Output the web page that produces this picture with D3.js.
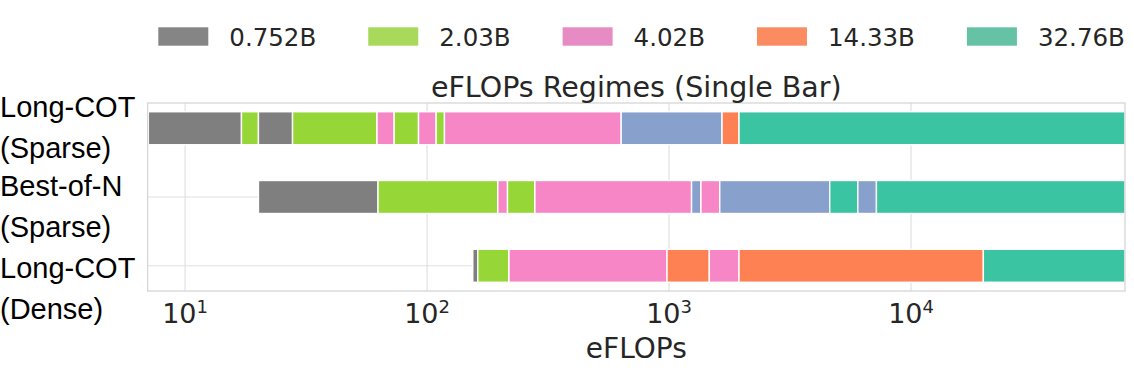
<!DOCTYPE html>
<html>
<head>
<meta charset="utf-8">
<script src="https://cdn.jsdelivr.net/npm/d3@7"></script>
<style>
  body { margin: 0; background: #fff; }
  svg { display: block; }
</style>
</head>
<body>
<svg id="chart" width="1134" height="375"></svg>
<script>
// rows of the chart, top to bottom
var rowLines = [["Long-COT", "(Sparse)"], ["Best-of-N", "(Sparse)"], ["Long-COT", "(Dense)"]];

// model sizes; "other" is drawn in the bars but has no legend entry
var models = ["0.752B", "2.03B", "4.02B", "other", "14.33B", "32.76B"];
var legendModels = ["0.752B", "2.03B", "4.02B", "14.33B", "32.76B"];
var barColors = ["#7f7f7f", "#97d637", "#f786c6", "#88a0cc", "#fe8153", "#3bc4a1"];
var legendColors = ["#858585", "#a8d95a", "#e68bc4", "#88a0cc", "#fb8c61", "#66c2a5"];

// segment edges (eFLOPs) and which model owns each segment
var longCotSparseEdges = [7.05, 17.1, 20.1, 27.8, 62.1, 73.1, 92.2, 109, 118, 634, 1656, 1946, 76600];
var longCotSparseModels = [0, 1, 0, 1, 2, 1, 2, 1, 2, 3, 4, 5];
var bestOfNEdges = [20.1, 62.7, 196, 215, 279, 1239, 1355, 1620, 4613, 6026, 7195, 76600];
var bestOfNModels = [0, 1, 2, 1, 2, 3, 2, 3, 5, 3, 5];
var longCotDenseEdges = [154.5, 162, 218, 981, 1467, 1946, 19900, 76600];
var longCotDenseModels = [0, 1, 2, 4, 2, 4, 5];

var tickValues = [10, 100, 1000, 10000];
var tickExps = ["1", "2", "3", "4"];

function drawChart() {
  var allEdges = [longCotSparseEdges, bestOfNEdges, longCotDenseEdges];
  var allModels = [longCotSparseModels, bestOfNModels, longCotDenseModels];

  var svg = d3.select("#chart");
  var pLeft = 147.6, pRight = 1125, pTop = 103, pBottom = 291;
  var font = "'DejaVu Sans', sans-serif";
  var ink = "#262626";

  var x = d3.scaleLog().domain([7.0, 76600]).range([pLeft, pRight]);
  var y = d3.scalePoint().domain(d3.range(rowLines.length)).range([pTop, pBottom]).padding(0.367);
  var barH = y.step() * 0.48;

  // grid
  svg.append("g").selectAll("line").data(tickValues).enter().append("line")
    .attr("x1", function(d) { return x(d); }).attr("x2", function(d) { return x(d); })
    .attr("y1", pTop).attr("y2", pBottom)
    .attr("stroke", "#e0e0e0").attr("stroke-width", 1.2);
  svg.append("g").selectAll("line").data(d3.range(rowLines.length)).enter().append("line")
    .attr("x1", pLeft).attr("x2", pRight)
    .attr("y1", function(d) { return y(d); }).attr("y2", function(d) { return y(d); })
    .attr("stroke", "#e0e0e0").attr("stroke-width", 1.2);

  // bars
  var segs = [];
  allEdges.forEach(function(edges, r) {
    for (var i = 0; i < edges.length - 1; i++) {
      segs.push({row: r, x0: edges[i], x1: edges[i + 1], m: allModels[r][i]});
    }
  });
  svg.append("g").selectAll("rect").data(segs).enter().append("rect")
    .attr("x", function(d) { return x(d.x0); })
    .attr("width", function(d) { return x(d.x1) - x(d.x0); })
    .attr("y", function(d) { return y(d.row) - barH / 2; })
    .attr("height", barH)
    .attr("fill", function(d) { return barColors[d.m]; })
    .attr("stroke", "#fff").attr("stroke-width", 1.4);

  // frame
  svg.append("rect").attr("x", pLeft).attr("y", pTop)
    .attr("width", pRight - pLeft).attr("height", pBottom - pTop)
    .attr("fill", "none").attr("stroke", "#d6d6d6").attr("stroke-width", 1.3);

  // x tick labels (10^n)
  var ticks = svg.append("g").selectAll("text").data(tickValues).enter().append("text")
    .attr("x", function(d) { return x(d); }).attr("y", 323)
    .attr("text-anchor", "middle")
    .attr("font-family", font).attr("font-size", 27).attr("fill", ink);
  ticks.append("tspan").text("10");
  ticks.append("tspan").attr("font-size", 18).attr("dy", -10)
    .text(function(d, i) { return tickExps[i]; });

  // axis label and title
  svg.append("text").attr("x", (pLeft + pRight) / 2).attr("y", 358)
    .attr("text-anchor", "middle").attr("font-family", font).attr("font-size", 28)
    .attr("fill", ink).text("eFLOPs");
  svg.append("text").attr("x", (pLeft + pRight) / 2).attr("y", 96.5)
    .attr("text-anchor", "middle").attr("font-family", font).attr("font-size", 28.5)
    .attr("fill", ink).text("eFLOPs Regimes (Single Bar)");

  // row labels
  var labelBase = [117, 196, 278];
  rowLines.forEach(function(lines, r) {
    lines.forEach(function(t, k) {
      svg.append("text").attr("x", 0).attr("y", labelBase[r] + k * 41)
        .attr("font-family", "'Liberation Sans', Arial, sans-serif").attr("font-size", 29)
        .attr("fill", "#000").text(t);
    });
  });

  // legend
  var lx = 158.3;
  legendModels.forEach(function(name) {
    var idx = models.indexOf(name);
    svg.append("rect").attr("x", lx).attr("y", 27.3).attr("width", 50).attr("height", 18.4)
      .attr("fill", legendColors[idx]);
    var t = svg.append("text").attr("x", lx + 71).attr("y", 45.6)
      .attr("font-family", font).attr("font-size", 24.5).attr("fill", ink).text(name);
    lx += 71 + t.node().getComputedTextLength() + 52;
  });
}

drawChart();
</script>
</body>
</html>
